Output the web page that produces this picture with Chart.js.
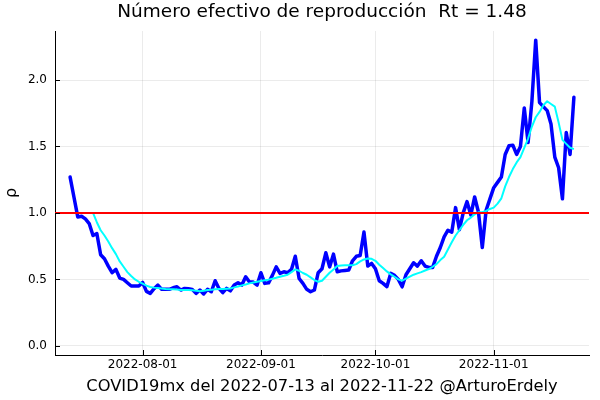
<!DOCTYPE html>
<html>
<head>
<meta charset="utf-8">
<script src="https://cdn.jsdelivr.net/npm/chart.js@4.4.0/dist/chart.umd.min.js"></script>
<style>
html,body{margin:0;padding:0;background:#fff;}
#wrap{width:600px;height:400px;}
</style>
</head>
<body>
<div id="wrap"><canvas id="c" width="600" height="400"></canvas></div>
<script>
const startDate = '2022-07-13';
const endDate = '2022-11-22';
const chartTitle = 'Número efectivo de reproducción  Rt = 1.48';
const xTitle = 'COVID19mx del 2022-07-13 al 2022-11-22 @ArturoErdely';
const yTitle = 'ρ';
const tickDates = ['2022-08-01', '2022-09-01', '2022-10-01', '2022-11-01'];
const yTickValues = [0.0, 0.5, 1.0, 1.5, 2.0];
const threshold = 1.0;

// daily Rt estimate (blue)
const rtDaily = [
  1.27, 1.12, 0.97, 0.975, 0.955, 0.92, 0.83, 0.845, 0.685, 0.655,
  0.60, 0.55, 0.575, 0.51, 0.50, 0.475, 0.45, 0.45, 0.45, 0.477,
  0.41, 0.395, 0.43, 0.457, 0.425, 0.425, 0.425, 0.437, 0.444, 0.42,
  0.432, 0.43, 0.425, 0.395, 0.42, 0.39, 0.425, 0.407, 0.49, 0.432,
  0.40, 0.432, 0.414, 0.457, 0.474, 0.457, 0.52, 0.48, 0.48, 0.457,
  0.55, 0.47, 0.474, 0.53, 0.594, 0.545, 0.557, 0.55, 0.575, 0.674,
  0.507, 0.47, 0.425, 0.407, 0.42, 0.55, 0.58, 0.70, 0.594, 0.69,
  0.557, 0.564, 0.567, 0.57, 0.64, 0.674, 0.68, 0.856, 0.60, 0.62,
  0.58, 0.49, 0.47, 0.445, 0.545, 0.53, 0.50, 0.444, 0.535, 0.58,
  0.625, 0.60, 0.64, 0.60, 0.59, 0.59, 0.674, 0.74, 0.82, 0.87,
  0.855, 1.04, 0.874, 1.0, 1.085, 0.985, 1.12, 1.005, 0.74, 1.02,
  1.106, 1.19, 1.23, 1.27, 1.44, 1.506, 1.51, 1.44, 1.50, 1.79,
  1.53, 1.84, 2.30, 1.83, 1.80, 1.77, 1.67, 1.42, 1.34, 1.106,
  1.605, 1.44, 1.87
];

// smoothed Rt (cyan), begins on the 7th day
const rtSmooth = [
  null, null, null, null, null, null,
  1.00, 0.93, 0.87, 0.83, 0.785, 0.735, 0.69, 0.635, 0.595, 0.555,
  0.525, 0.50, 0.482, 0.468, 0.453, 0.443, 0.438, 0.435, 0.432, 0.428,
  0.425, 0.425, 0.423, 0.42, 0.42, 0.42, 0.418, 0.415, 0.41, 0.415,
  0.42, 0.422, 0.425, 0.427, 0.427, 0.43, 0.432, 0.44, 0.447, 0.455,
  0.462, 0.47, 0.476, 0.482, 0.488, 0.493, 0.498, 0.505, 0.512, 0.52,
  0.527, 0.535, 0.555, 0.575, 0.565, 0.548, 0.535, 0.515, 0.495, 0.482,
  0.49, 0.52, 0.55, 0.575, 0.60, 0.605, 0.607, 0.607, 0.607, 0.615,
  0.635, 0.65, 0.657, 0.655, 0.64, 0.61, 0.585, 0.56, 0.538, 0.52,
  0.50, 0.49, 0.505, 0.52, 0.535, 0.545, 0.555, 0.567, 0.578, 0.595,
  0.615, 0.645, 0.67, 0.725, 0.78, 0.83, 0.87, 0.91, 0.945, 0.965,
  0.99, 1.005, 1.005, 1.015, 1.03, 1.04, 1.07, 1.11, 1.20, 1.27,
  1.33, 1.38, 1.42, 1.49, 1.56, 1.65, 1.72, 1.76, 1.81, 1.84,
  1.82, 1.80, 1.68, 1.55, 1.52, 1.49, 1.48
];

const DAY = 86400000;
const dayOf = d => Math.round((Date.parse(d) - Date.parse(startDate)) / DAY);
const tickDays = tickDates.map(dayOf);
const span = dayOf(endDate);
const xMin = -0.03 * span, xMax = span * 1.03;
const yTop = Math.max(...rtDaily);
const yMin = -0.03 * yTop, yMax = yTop * 1.03;

const FONT = "'DejaVu Sans', sans-serif";

const inwardTicks = {
  id: 'inwardTicks',
  afterDatasetsDraw(chart) {
    const ctx = chart.ctx, a = chart.chartArea;
    const xs = chart.scales.x, ys = chart.scales.y;
    ctx.save();
    ctx.strokeStyle = '#000';
    ctx.lineWidth = 1;
    ctx.beginPath();
    xs.ticks.forEach(t => {
      const px = Math.round(xs.getPixelForValue(t.value)) + 0.5;
      ctx.moveTo(px, a.bottom); ctx.lineTo(px, a.bottom - 5);
    });
    ys.ticks.forEach(t => {
      const py = Math.round(ys.getPixelForValue(t.value)) + 0.5;
      ctx.moveTo(a.left, py); ctx.lineTo(a.left + 5, py);
    });
    ctx.stroke();
    ctx.restore();
  }
};

new Chart(document.getElementById('c'), {
  type: 'line',
  data: {
    datasets: [
      {
        data: rtDaily.map((v, i) => ({x: i, y: v})),
        borderColor: '#0000ff', borderWidth: 3.5, order: 3,
        borderJoinStyle: 'round', borderCapStyle: 'round'
      },
      {
        data: rtSmooth.map((v, i) => ({x: i, y: v})),
        borderColor: '#00ffff', borderWidth: 2, order: 2,
        borderJoinStyle: 'round', spanGaps: false
      },
      {
        data: [{x: xMin, y: threshold}, {x: xMax, y: threshold}],
        borderColor: '#ff0000', borderWidth: 2, order: 1
      }
    ]
  },
  options: {
    responsive: false,
    animation: false,
    layout: {padding: {left: 0, right: 11, top: 0, bottom: 0}},
    plugins: {legend: {display: false}, tooltip: {enabled: false}, title: {display: false}},
    elements: {point: {radius: 0}, line: {tension: 0}},
    scales: {
      x: {
        type: 'linear', position: 'bottom', min: xMin, max: xMax,
        afterBuildTicks: s => { s.ticks = tickDays.map(v => ({value: v})); },
        ticks: {
          callback: (v, i) => tickDates[i],
          font: {family: FONT, size: 12}, color: '#000',
          maxRotation: 0, autoSkip: false, padding: 3
        },
        grid: {color: 'rgba(0,0,0,0.08)', lineWidth: 1, drawTicks: false},
        border: {display: true, color: '#000', width: 1},
        title: {display: true, text: xTitle, color: '#000',
                font: {family: FONT, size: 16.3}, padding: {top: 0, bottom: 3}},
        afterFit: s => { s.height = 45; }
      },
      xTop: {
        type: 'linear', position: 'top', min: xMin, max: xMax,
        grid: {display: false, drawTicks: false},
        border: {display: false},
        ticks: {display: false},
        title: {display: true, text: chartTitle, color: '#000',
                font: {family: FONT, size: 18.5}, padding: {top: 1, bottom: 0}},
        afterFit: s => { s.height = 31; }
      },
      y: {
        type: 'linear', min: yMin, max: yMax,
        afterBuildTicks: s => { s.ticks = yTickValues.map(v => ({value: v})); },
        ticks: {
          callback: v => v.toFixed(1),
          font: {family: FONT, size: 12}, color: '#000', padding: 8
        },
        grid: {color: 'rgba(0,0,0,0.08)', lineWidth: 1, drawTicks: false},
        border: {display: true, color: '#000', width: 1},
        title: {display: true, text: yTitle, color: '#000',
                font: {family: FONT, size: 16}, padding: {top: 2, bottom: 0}},
        afterFit: s => { s.width = 55; }
      }
    }
  },
  plugins: [inwardTicks]
});
</script>
</body>
</html>
